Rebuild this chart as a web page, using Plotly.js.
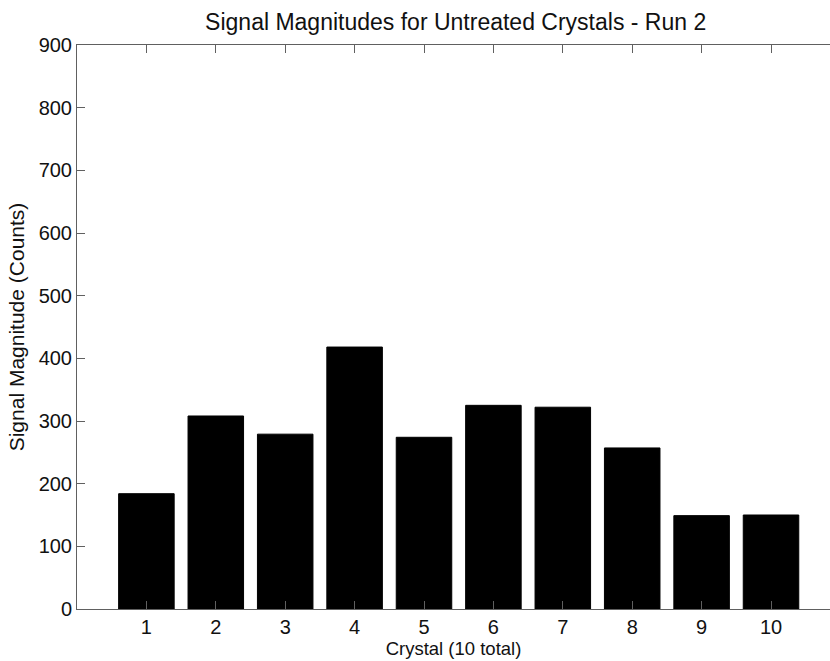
<!DOCTYPE html>
<html>
<head>
<meta charset="utf-8">
<script src="https://cdn.plot.ly/plotly-3.0.1.min.js"></script>
<style>
  html, body { margin: 0; padding: 0; background: #fff; }
  #chart { width: 830px; height: 661px; }
</style>
</head>
<body>
<div id="chart"></div>
<script>
// Signal magnitude per crystal, run 2 (untreated)
const crystals = [1, 2, 3, 4, 5, 6, 7, 8, 9, 10];
const signalCounts = [184, 308, 279, 418, 274, 325, 322, 257, 149, 150];
const yTicks = [0, 100, 200, 300, 400, 500, 600, 700, 800, 900];

const axisColor = '#606060';
const textColor = '#111111';
const family = 'Liberation Sans, Arial, sans-serif';
const tickFont = { family: family, size: 20, color: textColor };

const trace = {
  type: 'bar',
  x: crystals,
  y: signalCounts,
  width: 0.8,
  marker: { color: '#000000', line: { color: '#000000', width: 1 } },
  hoverinfo: 'x+y'
};

const layout = {
  width: 830,
  height: 661,
  margin: { l: 77, r: 0, t: 45, b: 52 },
  paper_bgcolor: '#ffffff',
  plot_bgcolor: '#ffffff',
  font: tickFont,
  showlegend: false,
  title: {
    text: 'Signal Magnitudes for Untreated Crystals - Run 2',
    font: { family: family, size: 23, color: textColor },
    x: 0.549,
    xanchor: 'center',
    y: 0.967,
    yanchor: 'middle'
  },
  xaxis: {
    range: [0, 10.85],
    tickmode: 'array',
    tickvals: crystals,
    ticktext: crystals.map(String),
    ticks: 'inside',
    ticklen: 8,
    tickcolor: axisColor,
    showline: true,
    linecolor: axisColor,
    linewidth: 1,
    mirror: 'ticks',
    showgrid: false,
    zeroline: false,
    tickfont: tickFont,
    title: { text: 'Crystal (10 total)', font: { family: family, size: 18.5, color: textColor }, standoff: 1 }
  },
  yaxis: {
    range: [0, 900],
    tickmode: 'array',
    tickvals: yTicks,
    ticktext: yTicks.map(String),
    ticks: 'inside',
    ticklen: 8,
    tickcolor: axisColor,
    showline: true,
    linecolor: axisColor,
    linewidth: 1,
    showgrid: false,
    zeroline: false,
    tickfont: tickFont,
    title: { text: 'Signal Magnitude (Counts)', font: { family: family, size: 21, color: textColor }, standoff: 8 }
  },
  bargap: 0.2
};

Plotly.newPlot('chart', [trace], layout, { displayModeBar: false, staticPlot: true });
</script>
</body>
</html>
